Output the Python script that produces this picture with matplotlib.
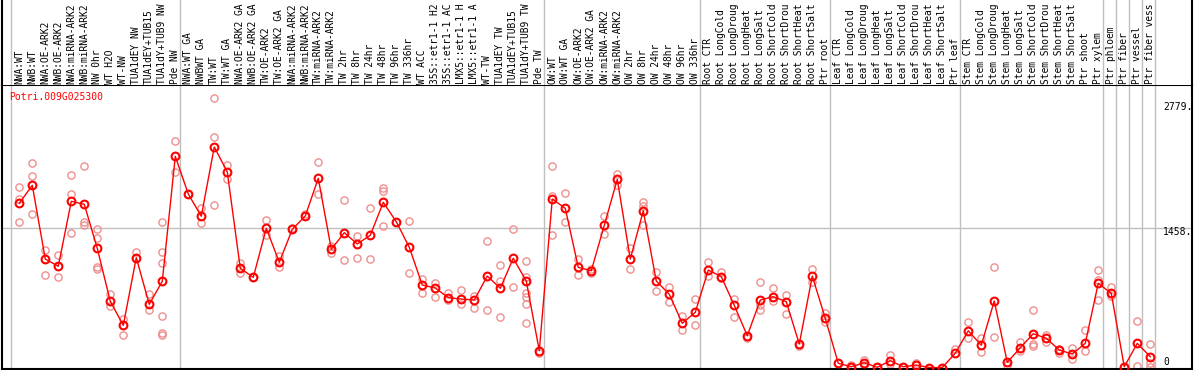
import matplotlib
matplotlib.use("Agg")
import matplotlib.pyplot as plt

# ---------------- data ----------------
gene_id = "Potri.009G025300"

group_sizes = [13, 28, 12, 10, 10, 11, 1, 1, 1, 1]

labels = [
    # group 1
    "NWA:WT", "NWB:WT", "NWA:OE-ARK2", "NWB:OE-ARK2", "NWA:miRNA-ARK2", "NWB:miRNA-ARK2",
    "NW 0hr", "WT H2O", "WT-NW", "TUA1dEY NW", "TUA1dEY+TUB15", "TUA1dY+TUB9 NW", "Pde NW",
    # group 2
    "NWA:WT GA", "NWBWT GA", "TW:WT", "TW:WT GA", "NWA:OE-ARK2 GA", "NWB:OE-ARK2 GA",
    "TW:OE-ARK2", "TW:OE-ARK2 GA", "NWA:miRNA-ARK2", "NWB:miRNA-ARK2", "TW:miRNA-ARK2",
    "TW:miRNA-ARK2", "TW 2hr", "TW 8hr", "TW 24hr", "TW 48hr", "TW 96hr", "TW 336hr",
    "WT ACC", "35S::etr1-1 H2", "35S::etr1-1 AC", "LMX5::etr1-1 H", "LMX5::etr1-1 A",
    "WT-TW", "TUA1dEY TW", "TUA1dEY+TUB15", "TUA1dY+TUB9 TW", "Pde TW",
    # group 3
    "OW:WT", "OW:WT GA", "OW:OE-ARK2", "OW:OE-ARK2 GA", "OW:miRNA-ARK2", "OW:miRNA-ARK2",
    "OW 2hr", "OW 8hr", "OW 24hr", "OW 48hr", "OW 96hr", "OW 336hr",
    # group 4
    "Root CTR", "Root LongCold", "Root LongDroug", "Root LongHeat", "Root LongSalt",
    "Root ShortCold", "Root ShortDrou", "Root ShortHeat", "Root ShortSalt", "Ptr root",
    # group 5
    "Leaf CTR", "Leaf LongCold", "Leaf LongDroug", "Leaf LongHeat", "Leaf LongSalt",
    "Leaf ShortCold", "Leaf ShortDrou", "Leaf ShortHeat", "Leaf ShortSalt", "Ptr leaf",
    # group 6
    "Stem CTR", "Stem LongCold", "Stem LongDroug", "Stem LongHeat", "Stem LongSalt",
    "Stem ShortCold", "Stem ShortDrou", "Stem ShortHeat", "Stem ShortSalt", "Ptr shoot",
    "Ptr xylem",
    # single-sample groups
    "Ptr phloem", "Ptr fiber", "Ptr vessel", "Ptr fiber vess",
]

means = [
    1720, 1908, 1136, 1060, 1741, 1709, 1248, 693, 442, 1150, 662, 903, 2212,
    1817, 1584, 2310, 2048, 1039, 945, 1458, 1102, 1447, 1587, 1982, 1238, 1412, 1294,
    1385, 1730, 1527, 1259, 864, 833, 731, 717, 707, 958, 830, 1144, 906, 176,
    1765, 1667, 1049, 1014, 1489, 1971, 1136, 1642, 906, 767, 463, 578,
    1021, 951, 651, 333, 707, 742, 689, 246, 958, 515,
    44, 8, 50, 2, 71, 8, 26, 0, 0, 149,
    385, 233, 697, 54, 207, 354, 306, 183, 141, 253, 882,
    777, 8, 253, 113,
]

replicates = [
    [1894, 1762, 1521], [2142, 2006, 1605], [1231, 966], [1178, 948],
    [2016, 1817, 1406], [2107, 1524, 1496], [1451, 1353, 1056, 1032], [770, 644],
    [505, 337], [1210, 1147], [770, 602], [1527, 1207, 1091, 543, 364, 340], [2372, 2045],
    [1817], [1667, 1510], [2820, 2411, 1699], [2121, 1971], [1098, 987], [945],
    [1545, 1388], [1168, 1049], [1461], [1608], [2149, 1814], [1273, 1202], [1754, 1126],
    [1377, 1144], [1667, 1133], [1883, 1852, 1485], [1527], [1534, 987], [924, 777],
    [882, 735], [777, 707], [812, 662], [749, 620], [1322, 602], [1074, 909, 526],
    [1451, 846], [1112, 951, 777, 742, 665, 463], [149],
    [2107, 1796, 1388], [1825, 1521], [1133, 966], [1032, 987], [1587, 1395], [2027, 1912],
    [1248, 1029], [1737, 1692, 1493], [1003, 801], [840, 689], [539, 393], [714, 442],
    [1108, 958], [1003, 934], [717, 532], [306], [892, 655, 602], [836, 697], [759, 560],
    [225], [1029, 899], [568, 480],
    [44], [26], [79, 26], [2], [131, 37], [8], [50], [0], [0], [191],
    [473, 306], [306, 159], [1049, 316], [26], [270, 173], [602, 243, 225], [340, 270],
    [194, 155], [201, 86], [393, 173], [1021, 916, 707],
    [840, 749], [8], [487, 16], [243, 44, 8],
]

axis_labels = ["2779.", "1458.", "0"]
mid_value = 1458

# ---------------- layout ----------------
W, H = 1194, 370
fig = plt.figure(figsize=(W / 100, H / 100), dpi=100)
fig.patch.set_facecolor("white")

ax_l, ax_r, ax_top, ax_bot = 2, 1192, 85, 369
ax = fig.add_axes([ax_l / W, (H - ax_bot) / H, (ax_r - ax_l) / W, (ax_bot - ax_top) / H])
lax = fig.add_axes([ax_l / W, (H - ax_top) / H, (ax_r - ax_l) / W, ax_top / H])

xlim = (-1.33, 90.21)
for a in (ax, lax):
    a.set_xlim(xlim)
    a.set_xticks([])
    a.set_yticks([])
    a.set_facecolor("white")
ax.set_ylim(-15.7, 2959)
lax.set_ylim(0, ax_top)

for s in ax.spines.values():
    s.set_linewidth(1.5)
    s.set_color("black")
lax.spines["top"].set_visible(False)
lax.spines["bottom"].set_visible(False)
for s in ("left", "right"):
    lax.spines[s].set_linewidth(1.5)

gray = "#c0c0c0"
# group separators
b = 0
bounds = [0]
for g in group_sizes:
    b += g
    bounds.append(b)
for bd in bounds:
    ax.axvline(bd - 0.62, color=gray, lw=1.0, zorder=0)
    lax.axvline(bd - 0.62, color=gray, lw=1.0, zorder=0)
ax.axhline(mid_value, color=gray, lw=1.0, zorder=0)

# replicates
xs_r, ys_r = [], []
for i, reps in enumerate(replicates):
    for v in reps:
        xs_r.append(i)
        ys_r.append(v)
ax.plot(xs_r, ys_r, linestyle="none", marker="o", markersize=5.2,
        markerfacecolor="none", markeredgecolor="#ee8f8f", markeredgewidth=1.0, zorder=2)

# means
xs = list(range(len(means)))
ax.plot(xs, means, color="#ff0000", lw=1.0, zorder=3)
ax.plot(xs, means, linestyle="none", marker="o", markersize=5.6,
        markerfacecolor="none", markeredgecolor="#ff0000", markeredgewidth=1.5, zorder=4)

# sample labels
for i, lab in enumerate(labels):
    lax.text(i, 1.5, lab, rotation=90, ha="center", va="bottom",
             fontsize=6.9, family="DejaVu Sans Mono", color="black")

# gene id
fig.text(9 / W, 1 - 97 / H, gene_id, color="red", fontsize=7,
         family="DejaVu Sans Mono", ha="left", va="center")

# right-side value labels
for lab, ypix in zip(axis_labels, [107, 232, 362]):
    fig.text(1163 / W, 1 - ypix / H, lab, color="black", fontsize=7,
             family="DejaVu Sans Mono", ha="left", va="center")

fig.savefig("out.png", dpi=100, facecolor="white")
